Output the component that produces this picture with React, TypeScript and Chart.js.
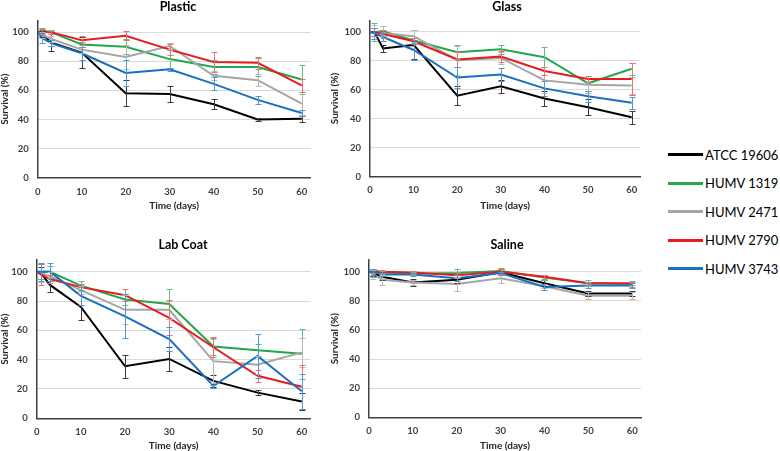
import React, { useEffect, useRef } from "react";
import { Chart, registerables } from "chart.js";
Chart.register(...registerables);

// ---------- data ----------
const DAYS = [0, 1, 3, 10, 20, 30, 40, 50, 60];
const STRAINS = ["ATCC 19606", "HUMV 1319", "HUMV 2471", "HUMV 2790", "HUMV 3743"];
const X_TICKS = [0, 10, 20, 30, 40, 50, 60];
const Y_TICKS = [0, 20, 40, 60, 80, 100];
const X_MAX = 62;
const Y_MAX = 108;

// Plastic
const PLASTIC_ATCC = [100, 99, 93, 86, 58, 57.5, 50.5, 40, 40.5];
const PLASTIC_ATCC_ERR = [0, 2, 6, 10.5, 9, 5.5, 3.5, 1, 2.5];
const PLASTIC_1319 = [100, 101, 100, 91.5, 90, 81.5, 76, 76, 67.5];
const PLASTIC_1319_ERR = [0, 2, 1.5, 1.5, 5, 6, 5, 6, 10];
const PLASTIC_2471 = [100, 98, 95.5, 88, 83, 90.5, 70, 67, 51];
const PLASTIC_2471_ERR = [0, 2, 2, 2, 8, 2, 3, 4, 8];
const PLASTIC_2790 = [100, 100.5, 100, 94.5, 97.5, 88, 79.5, 79, 63.5];
const PLASTIC_2790_ERR = [0, 1.5, 1, 3, 3, 4, 7, 4, 4.5];
const PLASTIC_3743 = [100, 96, 92.5, 85.5, 72, 74.5, 64.5, 53.5, 44.5];
const PLASTIC_3743_ERR = [0, 3.5, 2, 4.5, 9, 1, 4.5, 2.5, 2];

// Glass
const GLASS_ATCC = [100, 100, 88.5, 91, 56, 62.5, 54, 48, 41];
const GLASS_ATCC_ERR = [0, 3, 2.5, 10, 6.5, 4.5, 5, 5.5, 4.5];
const GLASS_1319 = [100, 100, 100.5, 94, 86, 88, 82.5, 64.5, 74.5];
const GLASS_1319_ERR = [0, 6, 3.5, 2, 5, 3, 7, 5, 4];
const GLASS_2471 = [100, 100, 99, 97, 80.5, 82, 66.5, 63.5, 63];
const GLASS_2471_ERR = [0, 5, 5, 4, 10, 4, 9, 6, 6];
const GLASS_2790 = [100, 100, 98.5, 93.5, 81, 83, 73, 67.5, 67.5];
const GLASS_2790_ERR = [0, 3, 3, 2, 5, 4, 3, 2, 11];
const GLASS_3743 = [100, 99, 96.5, 87.5, 68.5, 70.5, 61, 55.5, 51];
const GLASS_3743_ERR = [0, 4, 3, 7, 7, 4.5, 5, 4, 4];

// Lab Coat
const LAB_ATCC = [100, 99, 91, 76, 35.5, 40.5, 25.5, 17.5, 11.5];
const LAB_ATCC_ERR = [0, 4, 5, 9, 8, 8, 4, 1.5, 6];
const LAB_1319 = [100, 100, 100, 90.5, 81, 78, 49, 46.5, 44];
const LAB_1319_ERR = [0, 5, 4, 3.5, 4, 10, 6, 4, 17];
const LAB_2471 = [100, 99, 97, 87.5, 74, 74, 39, 36.5, 45];
const LAB_2471_ERR = [0, 6, 3, 3, 10, 6, 15, 6, 10];
const LAB_2790 = [100, 98, 95, 89.5, 84, 68.5, 48.5, 29, 21.5];
const LAB_2790_ERR = [0, 7, 3, 2, 4, 12, 7, 4, 15];
const LAB_3743 = [100, 100, 100, 83.5, 69.5, 54, 22, 42.5, 18.5];
const LAB_3743_ERR = [0, 6, 6, 6, 15, 8, 1, 15, 12];

// Saline
const SAL_ATCC = [100, 99, 96.5, 92.5, 94.5, 99.5, 92, 85, 85];
const SAL_ATCC_ERR = [0, 2, 2, 2.5, 2, 2, 2, 2, 2];
const SAL_1319 = [100, 99, 99.5, 98.5, 99, 100.5, 96, 92, 91.5];
const SAL_1319_ERR = [0, 3, 1, 1, 3, 2, 1.5, 2, 2];
const SAL_2471 = [100, 98, 94.5, 92.5, 91.5, 95.5, 90, 83.5, 83.5];
const SAL_2471_ERR = [0, 3, 3.5, 1.5, 4.5, 3, 1.5, 2.5, 2.5];
const SAL_2790 = [100, 100.5, 100, 99.5, 97.5, 100, 96.5, 92, 92];
const SAL_2790_ERR = [0, 1.5, 1, 1, 2, 1.5, 1.5, 1, 1];
const SAL_3743 = [100, 100, 98, 98, 95.5, 99, 89.5, 90.5, 90.5];
const SAL_3743_ERR = [0, 2, 1, 1, 2, 1, 2, 2, 2];

// ---------- styles ----------
const LINE_COLORS = ["#000000", "#22a84b", "#a5a5a5", "#e81c1c", "#1b6fbf"];
const ERR_COLORS = ["#3c3c3c", "#5cc17f", "#b8b8b8", "#ee7070", "#4f97d6"];
const FONT = "Lato, 'DejaVu Sans', sans-serif";

const PANELS = [
  {
    title: "Plastic",
    means: [PLASTIC_ATCC, PLASTIC_1319, PLASTIC_2471, PLASTIC_2790, PLASTIC_3743],
    errs: [PLASTIC_ATCC_ERR, PLASTIC_1319_ERR, PLASTIC_2471_ERR, PLASTIC_2790_ERR, PLASTIC_3743_ERR],
    box: { left: 0, top: 0, width: 330, height: 220 },
    area: { l: 37.7, t: 20.5, r: 310.5, b: 177.8 },
    titlePos: { x: 178, y: 7 },
    xTitlePad: 9,
  },
  {
    title: "Glass",
    means: [GLASS_ATCC, GLASS_1319, GLASS_2471, GLASS_2790, GLASS_3743],
    errs: [GLASS_ATCC_ERR, GLASS_1319_ERR, GLASS_2471_ERR, GLASS_2790_ERR, GLASS_3743_ERR],
    box: { left: 330, top: 0, width: 330, height: 220 },
    area: { l: 40, t: 20.3, r: 310.4, b: 176.7 },
    titlePos: { x: 177, y: 7 },
    xTitlePad: 9,
  },
  {
    title: "Lab Coat",
    means: [LAB_ATCC, LAB_1319, LAB_2471, LAB_2790, LAB_3743],
    errs: [LAB_ATCC_ERR, LAB_1319_ERR, LAB_2471_ERR, LAB_2790_ERR, LAB_3743_ERR],
    box: { left: 0, top: 220, width: 330, height: 231 },
    area: { l: 36.7, t: 40, r: 310.6, b: 198.3 },
    titlePos: { x: 183, y: 25 },
    xTitlePad: 0,
  },
  {
    title: "Saline",
    means: [SAL_ATCC, SAL_1319, SAL_2471, SAL_2790, SAL_3743],
    errs: [SAL_ATCC_ERR, SAL_1319_ERR, SAL_2471_ERR, SAL_2790_ERR, SAL_3743_ERR],
    box: { left: 330, top: 220, width: 330, height: 231 },
    area: { l: 39, t: 40, r: 311, b: 197.3 },
    titlePos: { x: 177, y: 25 },
    xTitlePad: 0,
  },
];

const errorBarPlugin = {
  id: "errorBars",
  afterDatasetsDraw(chart: any) {
    const ctx = chart.ctx;
    const ys = chart.scales.y;
    chart.data.datasets.forEach((ds: any, i: number) => {
      const meta = chart.getDatasetMeta(i);
      ctx.save();
      ctx.strokeStyle = ds.errColor;
      ctx.lineWidth = 1;
      meta.data.forEach((pt: any, j: number) => {
        const e = ds.errs[j];
        if (!e) return;
        const v = ds.data[j].y;
        const y1 = Math.round(ys.getPixelForValue(v + e)) + 0.5;
        const y2 = Math.round(ys.getPixelForValue(v - e)) + 0.5;
        const x = Math.round(pt.x) + 0.5;
        ctx.beginPath();
        ctx.moveTo(x, y1);
        ctx.lineTo(x, y2);
        ctx.moveTo(x - 3, y1);
        ctx.lineTo(x + 3, y1);
        ctx.moveTo(x - 3, y2);
        ctx.lineTo(x + 3, y2);
        ctx.stroke();
      });
      ctx.restore();
    });
  },
};

const panelTitlePlugin = {
  id: "panelTitle",
  afterDraw(chart: any, _args: any, opts: any) {
    const ctx = chart.ctx;
    ctx.save();
    ctx.font = `bold 12.5px ${FONT}`;
    ctx.fillStyle = "#000000";
    ctx.textAlign = "center";
    ctx.textBaseline = "middle";
    ctx.fillText(opts.text, opts.x, opts.y);
    ctx.restore();
  },
};

function Panel({ p }: { p: any }) {
  const ref = useRef<HTMLCanvasElement>(null);
  useEffect(() => {
    const canvas = ref.current!;
    const W = p.box.width;
    const H = p.box.height;
    const tickFont = { family: FONT, size: 9.5, weight: "bold" as const };
    const titleFont = { family: FONT, size: 10, weight: "bold" as const, lineHeight: 1 };
    const chart = new Chart(canvas, {
      type: "line",
      data: {
        datasets: STRAINS.map((name, i) => ({
          label: name,
          data: DAYS.map((d, j) => ({ x: d, y: p.means[i][j] })),
          errs: p.errs[i],
          errColor: ERR_COLORS[i],
          borderColor: LINE_COLORS[i],
          backgroundColor: LINE_COLORS[i],
          borderWidth: 2,
          pointRadius: 0,
          tension: 0,
          fill: false,
          order: 4 - i,
        })) as any,
      },
      options: {
        responsive: false,
        animation: false,
        devicePixelRatio: 1,
        layout: { padding: { left: 0, top: p.area.t, right: W - p.area.r, bottom: 0 } },
        plugins: {
          legend: { display: false },
          tooltip: { enabled: false },
          title: { display: false },
          panelTitle: { text: p.title, x: p.titlePos.x, y: p.titlePos.y },
        } as any,
        scales: {
          x: {
            type: "linear",
            min: 0,
            max: X_MAX,
            afterBuildTicks: (s: any) => {
              s.ticks = X_TICKS.map((v) => ({ value: v }));
            },
            afterFit: (s: any) => {
              s.height = H - p.area.b;
            },
            ticks: { font: tickFont, color: "#404040", padding: 8, maxRotation: 0, autoSkip: false },
            grid: { display: false, drawTicks: false },
            border: { display: true, color: "#404040", width: 1.5 },
            title: {
              display: true,
              text: "Time (days)",
              font: titleFont,
              color: "#262626",
              padding: { top: 0, bottom: p.xTitlePad },
            },
          },
          y: {
            type: "linear",
            min: 0,
            max: Y_MAX,
            afterBuildTicks: (s: any) => {
              s.ticks = Y_TICKS.map((v) => ({ value: v }));
            },
            afterFit: (s: any) => {
              s.width = p.area.l;
            },
            ticks: { font: tickFont, color: "#404040", padding: 9 },
            grid: { color: "#d9d9d9", lineWidth: 1, drawTicks: false },
            border: { display: true, color: "#404040", width: 1.5 },
            title: {
              display: true,
              text: "Survival (%)",
              font: titleFont,
              color: "#262626",
              padding: { top: 0, bottom: 0 },
            },
          },
        },
      },
      plugins: [errorBarPlugin, panelTitlePlugin],
    });
    return () => chart.destroy();
  }, [p]);
  return (
    <canvas
      ref={ref}
      width={p.box.width}
      height={p.box.height}
      style={{
        position: "absolute",
        left: p.box.left,
        top: p.box.top,
        width: p.box.width,
        height: p.box.height,
        display: "block",
      }}
    />
  );
}

const LEGEND_TOP = 154.5;
const LEGEND_STEP = 28.5;

export default function App() {
  return (
    <div
      style={{
        position: "fixed",
        left: 0,
        top: 0,
        width: 780,
        height: 451,
        background: "#ffffff",
        overflow: "hidden",
      }}
    >
      {PANELS.map((p) => (
        <Panel key={p.title} p={p} />
      ))}
      {STRAINS.map((name, i) => (
        <div
          key={name}
          style={{
            position: "absolute",
            left: 668,
            top: LEGEND_TOP + i * LEGEND_STEP - 10,
            height: 20,
            display: "flex",
            alignItems: "center",
            whiteSpace: "nowrap",
            fontFamily: FONT,
            fontSize: 13,
            color: "#000000",
          }}
        >
          <span
            style={{
              display: "inline-block",
              width: 35,
              height: 3,
              background: LINE_COLORS[i],
              marginRight: 2,
            }}
          />
          <span>{name}</span>
        </div>
      ))}
    </div>
  );
}
